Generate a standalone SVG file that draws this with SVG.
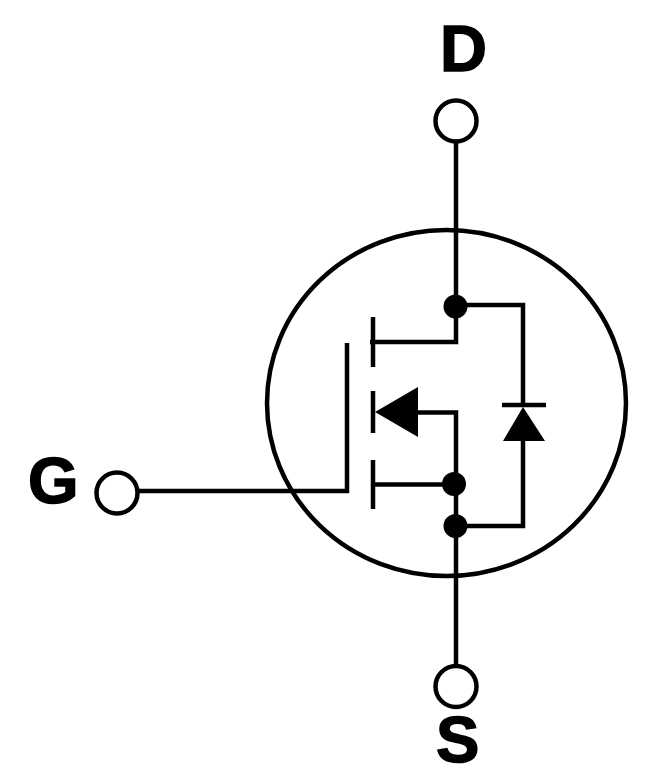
<svg xmlns="http://www.w3.org/2000/svg" width="652" height="777" viewBox="0 0 652 777">
<style>
.w{fill:none;stroke:#000;stroke-width:4.500}
.t{fill:#fff;stroke:#000;stroke-width:4.500}
.d{fill:#000;stroke:none}
.l{font-family:"Liberation Sans",Arial,sans-serif;font-weight:700;font-size:65px;fill:#000;stroke:#000;stroke-width:1.500}
</style>
<rect width="652" height="777" fill="#fff"/>
<g id="package"><ellipse class="w" cx="446.500" cy="403" rx="179.500" ry="173"/></g>
<g id="connectors">
<path class="w" d="M456 141V306"/>
<path class="w" d="M456 305H523V405M523 440V526H456"/>
<path class="w" d="M370 342H456V306"/>
<path class="w" d="M417 412.500H456V665"/>
<path class="w" d="M373 484.500H454"/>
<path class="w" d="M137 491H347V343"/>
<path class="w" d="M373 317V367M373 391V433M373 460V509"/>
<path class="w" d="M502 405H546"/>
</g>
<g id="body-diode-arrow"><polygon class="d" points="523,407 545,441 503,441"/></g>
<g id="channel-arrow"><polygon class="d" points="375,412 418,387 418,437"/></g>
<g id="junction-drain"><circle class="d" cx="455.500" cy="306.500" r="12"/></g>
<g id="junction-source-1"><circle class="d" cx="454" cy="484" r="12"/></g>
<g id="junction-source-2"><circle class="d" cx="455.500" cy="526" r="12"/></g>
<g id="terminal-d"><circle class="t" cx="456" cy="121" r="20.500"/><text class="l" x="440" y="70.500">D</text></g>
<g id="terminal-g"><circle class="t" cx="117" cy="493" r="20.500"/><text class="l" x="28" y="502.500">G</text></g>
<g id="terminal-s"><circle class="t" cx="456" cy="686.500" r="20.500"/><text class="l" x="436" y="762">S</text></g>
</svg>
